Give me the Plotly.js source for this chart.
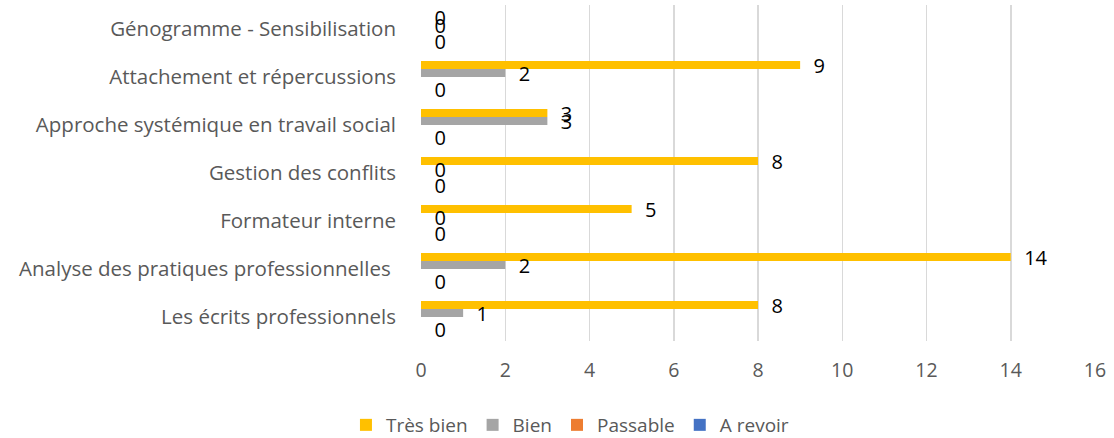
<!DOCTYPE html>
<html><head><meta charset="utf-8">
<script src="https://cdn.plot.ly/plotly-3.0.1.min.js"></script>
<style>body{margin:0;background:#fff}#c{width:1114px;height:438px}</style>
</head><body><div id="c"></div>
<script>
const categories = ["Génogramme - Sensibilisation","Attachement et répercussions","Approche systémique en travail social","Gestion des conflits","Formateur interne","Analyse des pratiques professionnelles ","Les écrits professionnels"];
const tresBien = [0,9,3,8,5,14,8];
const bien = [0,2,3,0,0,2,1];
const passable = [null,null,null,null,null,null,null];
const aRevoir = [0,0,0,0,0,0,0];
const xTicks = [0,2,4,6,8,10,12,14,16];

const series = [
  {name:"Très bien", v:tresBien, color:"#FFC000", lab:true},
  {name:"Bien", v:bien, color:"#A5A5A5", lab:true},
  {name:"Passable", v:passable, color:"#ED7D31", lab:false},
  {name:"A revoir", v:aRevoir, color:"#4472C4", lab:true}
];
const font = "Open Sans, Liberation Sans, sans-serif";
const data = series.map(s => ({
  type:"bar", orientation:"h", name:s.name, y:categories, x:s.v,
  marker:{color:s.color},
  text: s.lab ? s.v.map(v => v===null ? "" : "\u00a0\u00a0" + v) : undefined,
  textposition: s.lab ? "outside" : "none",
  textfont:{family:font, size:20, color:"#000"},
  constraintext:"none", cliponaxis:false, hoverinfo:"skip"
}));
const layout = {
  width:1114, height:438,
  margin:{l:421, r:19, t:5, b:97, autoexpand:false},
  barmode:"group", bargap:1/3, bargroupgap:0,
  paper_bgcolor:"#fff", plot_bgcolor:"#fff",
  font:{family:font, color:"#595959", size:19},
  xaxis:{range:[0,16], tickvals:xTicks, showgrid:true, gridcolor:"#D9D9D9", gridwidth:1.5,
         zeroline:false, showline:false, ticks:"", ticklabelstandoff:15,
         tickfont:{family:font, size:19.5, color:"#595959"}, fixedrange:true},
  yaxis:{autorange:"reversed", type:"category", showgrid:false, zeroline:false, showline:false,
         ticks:"", ticklabelstandoff:24, tickfont:{family:font, size:20.5, color:"#595959"}},
  showlegend:true,
  legend:{orientation:"h", x:0.221, xanchor:"center", y:-0.25, yanchor:"middle",
          font:{family:font, size:19, color:"#595959"}, traceorder:"normal", itemwidth:30},
};
Plotly.newPlot("c", data, layout, {displayModeBar:false, staticPlot:true});
</script></body></html>
